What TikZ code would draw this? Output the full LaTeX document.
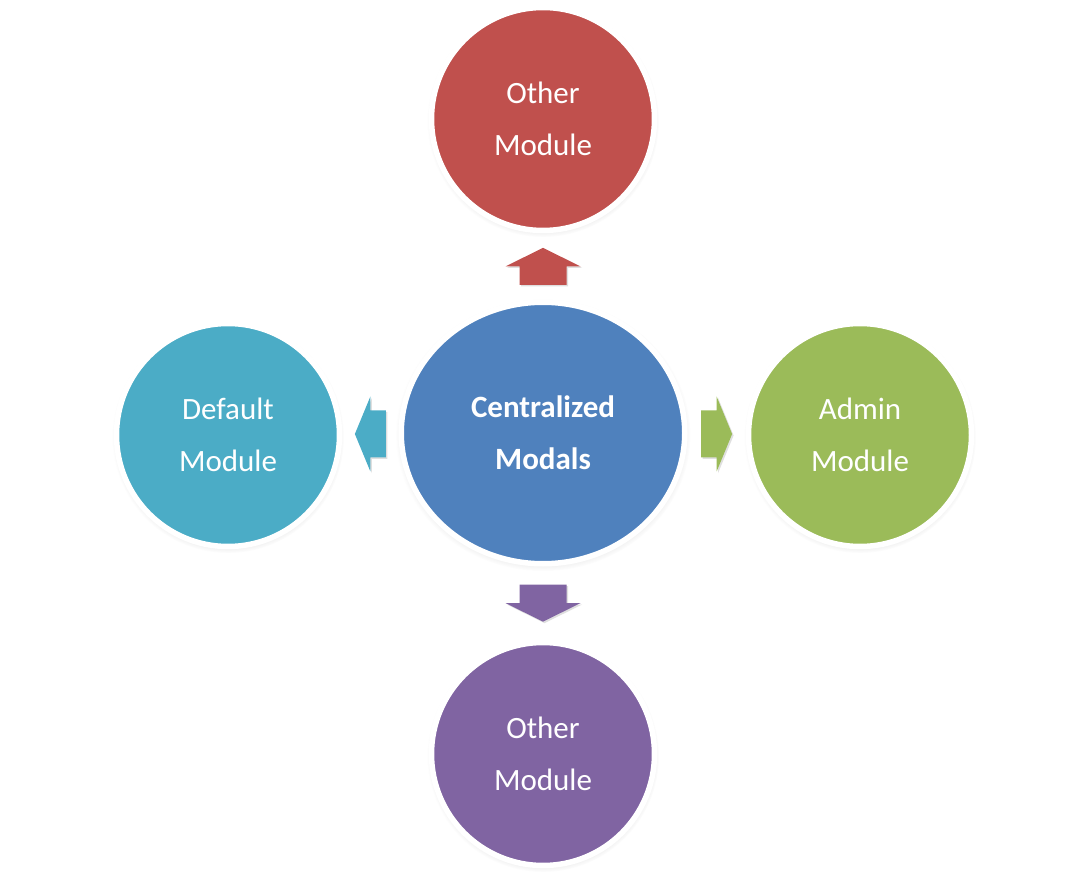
\documentclass[tikz,border=0pt]{standalone}
\usepackage{fontspec}
\setmainfont{Carlito}
\usetikzlibrary{shapes.geometric, shadows, calc}

\definecolor{cred}{HTML}{C0504D}
\definecolor{cblue}{HTML}{4F81BD}
\definecolor{cgreen}{HTML}{9BBB59}
\definecolor{cpurple}{HTML}{8064A2}
\definecolor{caqua}{HTML}{4BACC6}

\tikzset{
	module/.style={circle, draw=white, line width=5.5pt, minimum size=223pt, inner sep=0pt,
		text=white, align=center, font=\fontsize{31}{52}\selectfont,
		circular drop shadow={shadow scale=1.04, shadow xshift=0pt, shadow yshift=-2pt, opacity=0.35}},
	blockarrow/.pic={
		\fill[pic actions, drop shadow={shadow xshift=1.5pt, shadow yshift=-1.5pt, opacity=0.25}]
			(-#1,-23.5) -- (0,-23.5) -- (0,-37.5) -- (#1,0) -- (0,37.5) -- (0,23.5) -- (-#1,23.5) -- cycle;
	}
}

\begin{document}
\begin{tikzpicture}[x=1pt, y=-1pt]
			\useasboundingbox (0,0) rectangle (1088,877);

			\node (hub)[module, ellipse, fill=cblue, minimum width=283.5pt, minimum height=261.5pt, font=\bfseries\fontsize{31}{52}\selectfont] at (543, 433) {Centralized\\Modals};

			\node (top)[module, fill=cred] at (543, 119) {Other\\Module};
			\node (left)[module, fill=caqua] at (228, 435) {Default\\Module};
			\node (right)[module, fill=cgreen] at (860, 435) {Admin\\Module};
			\node (bottom)[module, fill=cpurple] at (543, 754) {Other\\Module};

			\pic[fill=cred, rotate=90] at ($(hub.north)!0.5!(top.south)$) {blockarrow=18.5};
			\pic[fill=caqua, rotate=180] at ($(hub.west)!0.5!(left.east)$) {blockarrow=15.5};
			\pic[fill=cgreen] at ($(hub.east)!0.5!(right.west)$) {blockarrow=15.5};
			\pic[fill=cpurple, rotate=-90] at ($(hub.south)!0.5!(bottom.north)$) {blockarrow=18.5};
		\end{tikzpicture}
\end{document}
